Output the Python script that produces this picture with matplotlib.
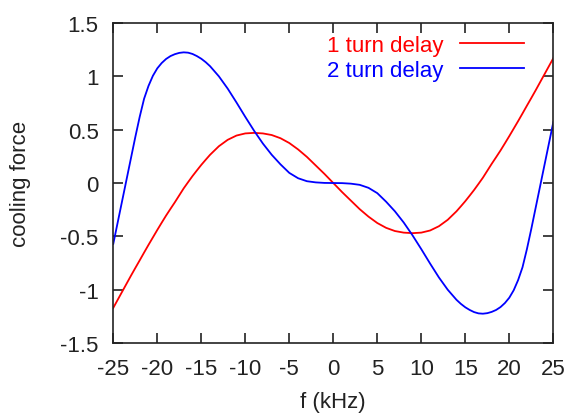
import numpy as np
import matplotlib.pyplot as plt

plt.rcParams['font.family'] = ['Liberation Sans', 'DejaVu Sans']

# frequency samples (kHz), finer near the edges where the curves bend fast
f_khz = [-25, -24.5, -24, -23.5, -23, -22.5, -22, -21.5, -21, -20.5, -20, -19.5,
         -19, -18.5, -18, -17.5, -17, -16.5, -16, -15.5, -15, -14.5, -14,
         -13, -12, -11, -10, -9, -8, -7, -6, -5, -4, -3, -2, -1, 0,
         1, 2, 3, 4, 5, 6, 7, 8, 9, 10, 11, 12, 13,
         14, 14.5, 15, 15.5, 16, 16.5, 17, 17.5, 18, 18.5, 19, 19.5,
         20, 20.5, 21, 21.5, 22, 22.5, 23, 23.5, 24, 24.5, 25]

# cooling force, 1 turn delay
one_turn = [-1.17, -1.095, -1.02, -0.945, -0.87, -0.797, -0.725, -0.652, -0.58, -0.51, -0.44, -0.372,
            -0.305, -0.242, -0.18, -0.115, -0.05, 0.008, 0.065, 0.118, 0.17, 0.218, 0.265,
            0.345, 0.405, 0.445, 0.465, 0.47, 0.465, 0.45, 0.42, 0.375, 0.315, 0.245, 0.165, 0.085, 0.0,
            -0.085, -0.165, -0.245, -0.315, -0.375, -0.42, -0.45, -0.465, -0.47, -0.465, -0.445, -0.405, -0.345,
            -0.265, -0.218, -0.17, -0.118, -0.065, -0.008, 0.05, 0.115, 0.18, 0.242, 0.305, 0.372,
            0.44, 0.51, 0.58, 0.652, 0.725, 0.797, 0.87, 0.945, 1.02, 1.095, 1.17]

# cooling force, 2 turn delay
two_turn = [-0.57, -0.37, -0.17, 0.03, 0.23, 0.43, 0.62, 0.79, 0.91, 1.005, 1.075, 1.125,
            1.163, 1.19, 1.208, 1.22, 1.225, 1.222, 1.21, 1.19, 1.165, 1.133, 1.095,
            1.0, 0.885, 0.755, 0.62, 0.49, 0.37, 0.265, 0.175, 0.095, 0.045, 0.017, 0.006, 0.001, 0.0,
            -0.001, -0.006, -0.017, -0.045, -0.095, -0.175, -0.265, -0.37, -0.49, -0.62, -0.755, -0.885, -1.0,
            -1.095, -1.133, -1.165, -1.19, -1.21, -1.222, -1.225, -1.22, -1.208, -1.19, -1.163, -1.125,
            -1.075, -1.005, -0.91, -0.79, -0.62, -0.43, -0.23, -0.03, 0.17, 0.37, 0.57]

fig = plt.figure(figsize=(5.65, 4.14), dpi=100)
ax = fig.add_axes([0.2005, 0.169, 0.7788, 0.773])

ax.plot(f_khz, one_turn, color='#ff0000', lw=1.3, label='1 turn delay')
ax.plot(f_khz, two_turn, color='#0000ff', lw=1.3, label='2 turn delay')

ax.set_xlim(-25, 25)
ax.set_ylim(-1.5, 1.5)
ax.set_xticks(np.arange(-25, 26, 5))
ax.set_yticks([-1.5, -1, -0.5, 0, 0.5, 1, 1.5])
ax.set_yticklabels(['-1.5', '-1', '-0.5', '0', '0.5', '1', '1.5'])
ax.set_xticklabels([str(v) for v in range(-25, 26, 5)])
ax.tick_params(direction='in', length=7, width=1.2, top=True, right=True,
               labelsize=16, pad=10.5, colors='#222222')
for s in ax.spines.values():
    s.set_linewidth(1.2)
    s.set_color('#222222')

ax.set_xlabel('f (kHz)', fontsize=16, labelpad=9, color='#222222')
ax.set_ylabel('cooling force', fontsize=16, labelpad=21, color='#222222')

ax.legend(loc='upper right', bbox_to_anchor=(0.934, 0.962), markerfirst=False,
          frameon=False, labelcolor='linecolor', fontsize=16, handlelength=2.9,
          labelspacing=0.15, borderaxespad=0, borderpad=0, handletextpad=0.75)

fig.savefig('out.png', dpi=100, facecolor='white')
